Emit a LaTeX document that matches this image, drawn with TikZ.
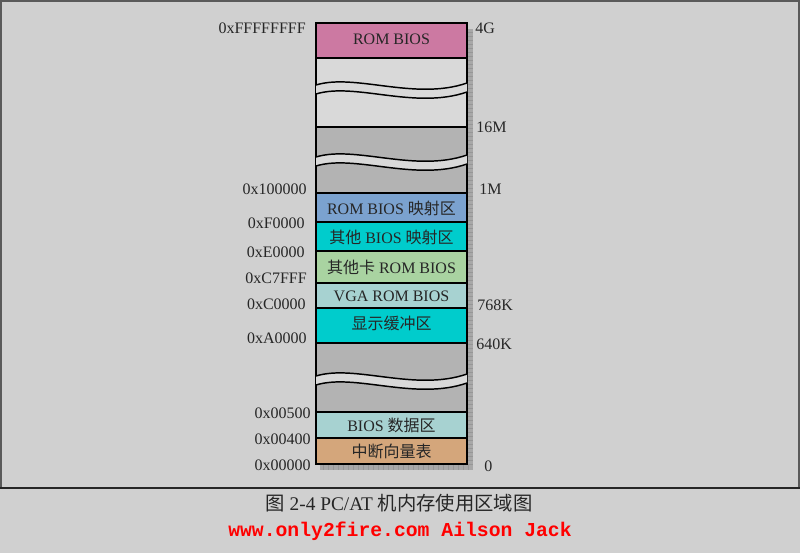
\documentclass[tikz,border=0pt]{standalone}
\usepackage{fontspec}
\setmainfont{Liberation Serif}
\newfontfamily\cjk{Noto Sans CJK SC}
\newfontfamily\webfont{Liberation Mono}

\definecolor{bggray}{HTML}{D0D0D0}
\definecolor{framegray}{HTML}{5A5A5A}
\definecolor{framedark}{HTML}{262626}
\definecolor{shadowgray}{HTML}{A8A8A8}
\definecolor{tickgray}{HTML}{979797}
\definecolor{rompink}{HTML}{CC79A2}
\definecolor{emptylight}{HTML}{D9D9D9}
\definecolor{emptygray}{HTML}{B3B3B3}
\definecolor{mapblue}{HTML}{7BA2CF}
\definecolor{bioscyan}{HTML}{00CCCC}
\definecolor{cardgreen}{HTML}{A9D3A1}
\definecolor{datateal}{HTML}{A7D2D1}
\definecolor{ivttan}{HTML}{D4A67B}
\definecolor{labeltext}{HTML}{262626}
\definecolor{webred}{HTML}{FF0000}

\begin{document}
\begin{tikzpicture}[x=0.75pt, y=-0.75pt,
        addrlabel/.style={anchor=east, inner sep=0pt, text=labeltext, font=\fontsize{12}{14}\selectfont},
        sizelabel/.style={anchor=west, inner sep=0pt, text=labeltext, font=\fontsize{12}{14}\selectfont},
        region/.style={draw=black, line width=1.1pt},
        regiontext/.style={inner sep=0pt, text=labeltext, font=\fontsize{12}{14}\selectfont}]

        \useasboundingbox (0,0) rectangle (800,553);
        \fill[bggray] (0,0) rectangle (800,553);

        \draw[framegray, line width=1.5pt] (0.8,488) -- (0.8,0.8) -- (799.2,0.8) -- (799.2,488);
        \draw[framedark, line width=1.6pt] (0,488) -- (800,488);

        % shadow
        \fill[shadowgray] (467,29) rectangle (473,470);
        \fill[shadowgray] (320,464) rectangle (473,470);
        \foreach \t in {32,36,...,466}
            \draw[tickgray, line width=0.4pt] (467,\t) -- (473,\t);
        \foreach \t in {323,328,...,470}
            \draw[tickgray, line width=0.4pt] (\t,464) -- (\t,470);

        % memory regions
        \draw[region, fill=rompink] (316,23) rectangle (467,58);
        \draw[region, fill=emptylight] (316,58) rectangle (467,127);
        \draw[region, fill=emptygray] (316,127) rectangle (467,193);
        \draw[region, fill=mapblue] (316,193) rectangle (467,222);
        \draw[region, fill=bioscyan] (316,222) rectangle (467,251);
        \draw[region, fill=cardgreen] (316,251) rectangle (467,283);
        \draw[region, fill=datateal] (316,283) rectangle (467,308);
        \draw[region, fill=bioscyan] (316,308) rectangle (467,343);
        \draw[region, fill=emptygray] (316,343) rectangle (467,412);
        \draw[region, fill=datateal] (316,412) rectangle (467,438);
        \draw[region, fill=ivttan] (316,438) rectangle (467,464);

        % breaks
        \foreach \w in {85,157,376} {
            \fill[emptylight] (316,\w) .. controls (355,{\w-12}) and (415,{\w+16}) .. (467,{\w-2})
                -- (467,{\w+7}) .. controls (415,{\w+25}) and (355,{\w-3}) .. (316,{\w+9}) -- cycle;
            \draw[line width=1.1pt] (316,\w) .. controls (355,{\w-12}) and (415,{\w+16}) .. (467,{\w-2});
            \draw[line width=1.1pt] (316,{\w+9}) .. controls (355,{\w-3}) and (415,{\w+25}) .. (467,{\w+7});
        }

        \node[regiontext] (rombios) at (391.5,39) {ROM BIOS};
        \node[regiontext] (biosmap) at (391.5,208) {ROM BIOS {\cjk 映射区}};
        \node[regiontext] (otherbios) at (391.5,237) {{\cjk 其他} BIOS {\cjk 映射区}};
        \node[regiontext] (othercard) at (391.5,267) {{\cjk 其他卡} ROM BIOS};
        \node[regiontext] (vgabios) at (391.5,296) {VGA ROM BIOS};
        \node[regiontext] (vidbuf) at (391.5,323) {\cjk 显示缓冲区};
        \node[regiontext] (biosdata) at (391.5,425) {BIOS {\cjk 数据区}};
        \node[regiontext] (ivt) at (391.5,451) {\cjk 中断向量表};

        % addresses
        \node[addrlabel] (a4g) at (306,28) {0xFFFFFFFF};
        \node[addrlabel] (a1m) at (307,189) {0x100000};
        \node[addrlabel] (af0) at (305,223) {0xF0000};
        \node[addrlabel] (ae0) at (305,252) {0xE0000};
        \node[addrlabel] (ac7) at (307,278) {0xC7FFF};
        \node[addrlabel] (ac0) at (306,304) {0xC0000};
        \node[addrlabel] (aa0) at (307,338) {0xA0000};
        \node[addrlabel] (a500) at (311,413) {0x00500};
        \node[addrlabel] (a400) at (311,439) {0x00400};
        \node[addrlabel] (a000) at (311,465) {0x00000};

        % sizes
        \node[sizelabel] (s4g) at (475,28) {4G};
        \node[sizelabel] (s16m) at (476,127) {16M};
        \node[sizelabel] (s1m) at (479,189) {1M};
        \node[sizelabel] (s768k) at (477,305) {768K};
        \node[sizelabel] (s640k) at (476,344) {640K};
        \node[sizelabel] (s0) at (484,466) {0};

        \node[inner sep=0pt, text=labeltext, font=\fontsize{14.5}{17}\selectfont] (caption) at (399,503)
            {{\cjk 图} 2-4 PC/AT {\cjk 机内存使用区域图}};
        \node[inner sep=0pt, text=webred, font=\webfont\bfseries\fontsize{14.8}{17}\selectfont] (website) at (400,531)
            {www.only2fire.com Ailson Jack};

    \end{tikzpicture}
\end{document}
